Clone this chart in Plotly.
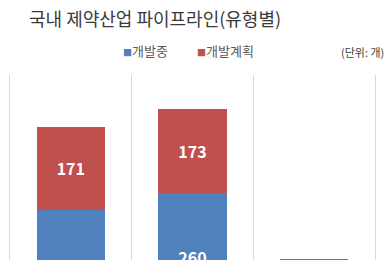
import plotly.graph_objects as go

categories = ["A", "B", "C"]
series_names = ["개발중", "개발계획"]
dev_values = [226, 260, 60]
plan_values = [171, 173, 65]
colors = ["#4F81BD", "#C0504D"]

title_text = "국내 제약산업 파이프라인(유형별)"
unit_text = "(단위: 개)"

font_kr = "Noto Sans CJK KR, Malgun Gothic, sans-serif"

fig = go.Figure()
for name, vals, col in zip(series_names, [dev_values, plan_values], colors):
    fig.add_trace(go.Bar(
        x=categories, y=vals, name=name,
        marker=dict(color=col, line=dict(width=0)),
        text=[str(v) for v in vals],
        textposition="inside", insidetextanchor="middle",
        textfont=dict(color="white", size=16, family=font_kr),
        texttemplate="<b>%{text}</b>",
        constraintext="none",
        showlegend=False,
    ))

legend_html = ("<span style='color:%s;font-size:9px'>■</span>%s          "
               "<span style='color:%s;font-size:9px'>■</span>%s"
               % (colors[0], series_names[0], colors[1], series_names[1]))

plot_top = 75
H = 260
def paper_y(px):
    return (H - px) / (H - plot_top)

fig.update_layout(
    width=384, height=H,
    margin=dict(l=0, r=0, t=plot_top, b=0),
    barmode="stack",
    bargap=0.44,
    paper_bgcolor="white", plot_bgcolor="white",
    font=dict(family=font_kr, color="#595959"),
    xaxis=dict(
        type="category",
        range=[-0.582, 2.574],
        tickson="boundaries",
        showgrid=True, gridcolor="#D9D9D9", gridwidth=1,
        showticklabels=False, ticks="", zeroline=False, showline=False,
    ),
    yaxis=dict(
        range=[123.2, 503.1],
        showgrid=False, showticklabels=False, zeroline=False, showline=False, ticks="",
    ),
    annotations=[
        dict(text=title_text, xref="paper", yref="paper", x=27 / 384, y=paper_y(18),
             xanchor="left", yanchor="middle", showarrow=False,
             font=dict(size=18, color="#3A3A3A", family=font_kr)),
        dict(text=legend_html, xref="paper", yref="paper", x=188 / 384, y=paper_y(50),
             xanchor="center", yanchor="middle", showarrow=False,
             font=dict(size=13, color="#595959", family=font_kr)),
        dict(text=unit_text, xref="paper", yref="paper", x=1.005, y=paper_y(52),
             xanchor="right", yanchor="middle", showarrow=False,
             font=dict(size=11, color="#404040", family=font_kr)),
    ],
)

fig.write_html("out.html")
